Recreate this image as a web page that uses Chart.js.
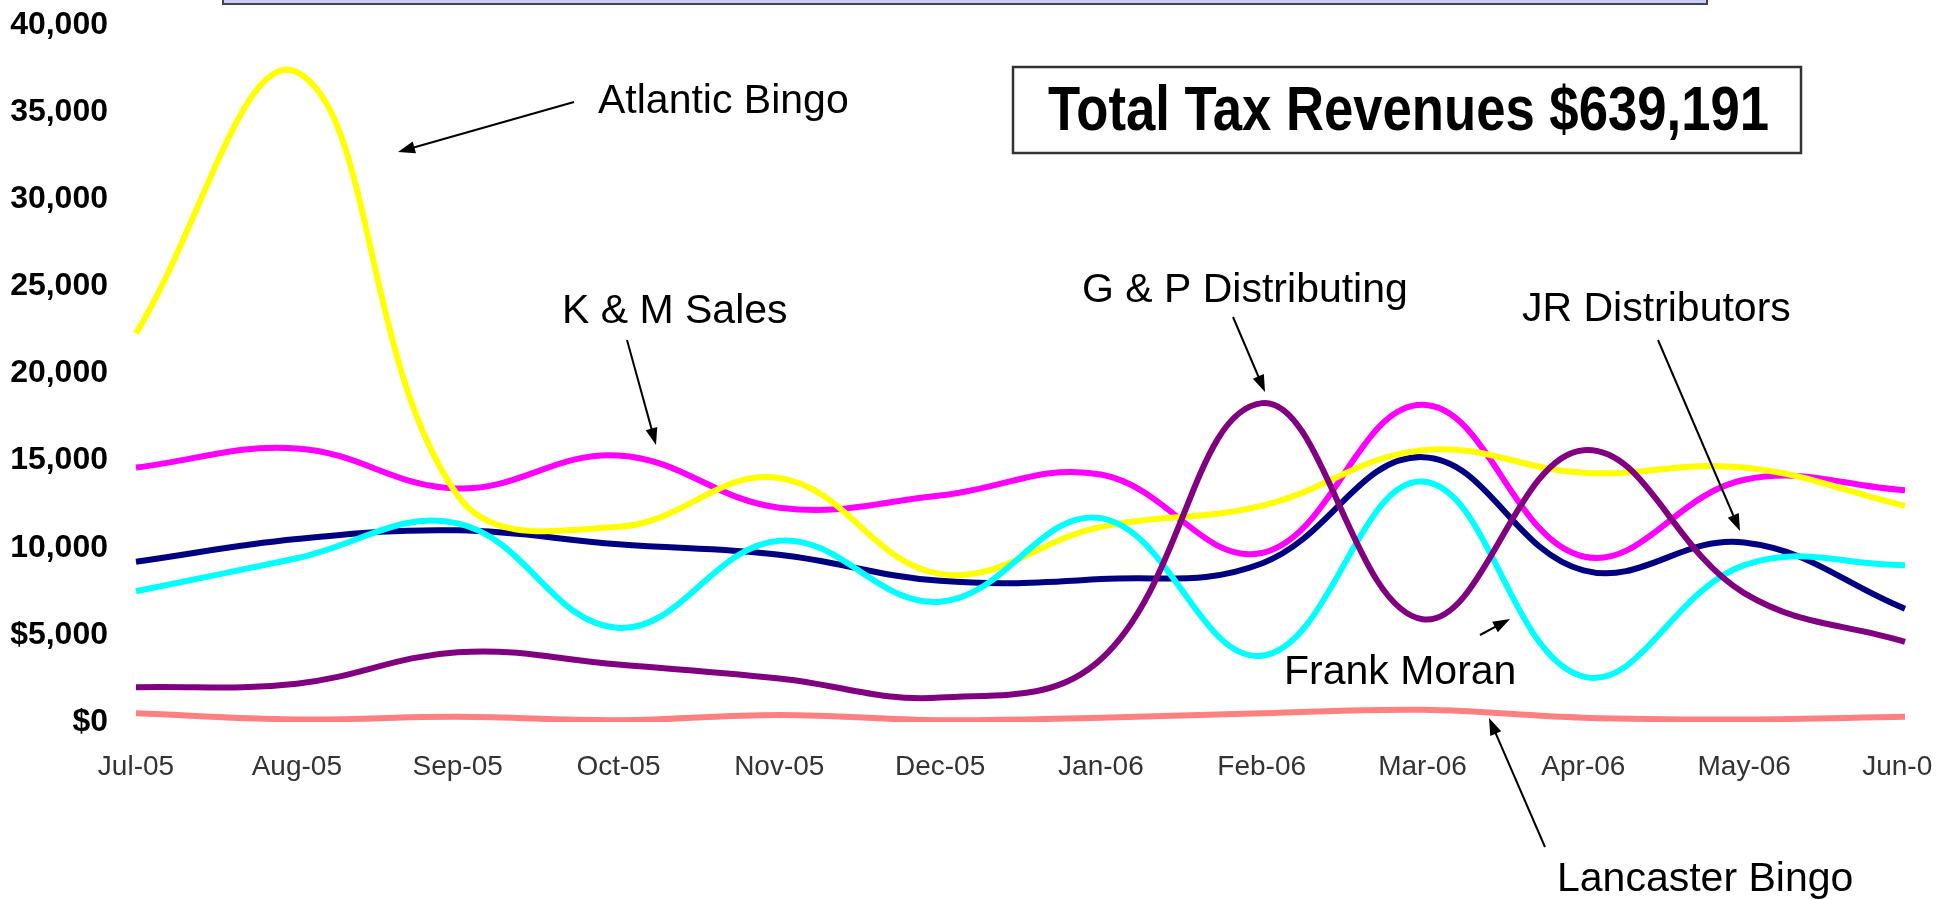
<!DOCTYPE html>
<html>
<head>
<meta charset="utf-8">
<title>Tax revenues by distributor</title>
<script src="https://cdn.jsdelivr.net/npm/chart.js@4.4.1/dist/chart.umd.min.js"></script>
<style>
  html, body { margin: 0; padding: 0; background: #fff; }
  #wrap { width: 1950px; height: 900px; }
</style>
</head>
<body>
<div id="wrap"><canvas id="chart" width="1950" height="900"></canvas></div>
<script>
// months on the x axis
const months = ["Jul-05", "Aug-05", "Sep-05", "Oct-05", "Nov-05", "Dec-05",
                "Jan-06", "Feb-06", "Mar-06", "Apr-06", "May-06", "Jun-06"];
const yTickLabels = ["$0", "$5,000", "10,000", "15,000", "20,000", "25,000", "30,000", "35,000", "40,000"];

// monthly tax revenue per distributor
const atlanticBingo     = [22300, 37300, 13000, 11200, 14000, 8500, 11200, 12400, 15600, 14300, 14600, 12400];
const kmSales           = [14600, 15700, 13400, 15300, 12300, 13000, 14200, 9700, 18200, 9500, 13900, 13300];
const jrDistributors    = [9200, 10500, 11000, 10200, 9600, 8100, 8200, 9100, 15200, 8700, 10300, 6500];
const frankMoran        = [7500, 9400, 11400, 5400, 10400, 6900, 11700, 3800, 13800, 2600, 9000, 9000];
const gpDistributing    = [2000, 2200, 4000, 3300, 2500, 1400, 3600, 18300, 5900, 15600, 7400, 4600];
const lancasterBingo    = [500, 150, 300, 100, 400, 100, 250, 500, 700, 250, 150, 300];

const totalLabel = "Total Tax Revenues $639,191";

// callout labels with their arrows (pixel positions on the canvas)
const notes = [
  { text: "Atlantic Bingo",     x: 598,  y: 113, from: [574, 102],  to: [398, 152] },
  { text: "K & M Sales",        x: 562,  y: 323, from: [627, 340],  to: [656, 445] },
  { text: "G & P Distributing", x: 1082, y: 302, from: [1233, 317], to: [1265, 392] },
  { text: "JR Distributors",    x: 1522, y: 321, from: [1658, 340], to: [1740, 531] },
  { text: "Frank Moran",        x: 1284, y: 684, from: [1480, 635], to: [1510, 619] },
  { text: "Lancaster Bingo",    x: 1557, y: 891, from: [1545, 847], to: [1489, 718] }
];

const FONT = "'Liberation Sans', Arial, sans-serif";

function arrow(ctx, x1, y1, x2, y2) {
  const a = Math.atan2(y2 - y1, x2 - x1);
  const len = 17, half = 6;
  ctx.beginPath();
  ctx.moveTo(x1, y1);
  ctx.lineTo(x2 - Math.cos(a) * len * 0.8, y2 - Math.sin(a) * len * 0.8);
  ctx.stroke();
  ctx.beginPath();
  ctx.moveTo(x2, y2);
  ctx.lineTo(x2 - len * Math.cos(a) + half * Math.sin(a), y2 - len * Math.sin(a) - half * Math.cos(a));
  ctx.lineTo(x2 - len * Math.cos(a) - half * Math.sin(a), y2 - len * Math.sin(a) + half * Math.cos(a));
  ctx.closePath();
  ctx.fill();
}

const decorations = {
  id: "decorations",
  afterDraw(chart) {
    const ctx = chart.ctx;
    ctx.save();

    // bottom of the title box that is cut off by the top edge
    ctx.fillStyle = "#ccccff";
    ctx.strokeStyle = "#444";
    ctx.lineWidth = 2;
    ctx.fillRect(223, -10, 1484, 14);
    ctx.strokeRect(223, -10, 1484, 14);

    // total box
    ctx.fillStyle = "#fff";
    ctx.fillRect(1013, 67, 788, 86);
    ctx.strokeStyle = "#333";
    ctx.lineWidth = 2.5;
    ctx.strokeRect(1013, 67, 788, 86);
    ctx.fillStyle = "#000";
    ctx.font = "bold 63px 'Liberation Sans Narrow', 'Liberation Sans', Arial, sans-serif";
    ctx.textBaseline = "alphabetic";
    ctx.textAlign = "left";
    const w = ctx.measureText(totalLabel).width;
    ctx.save();
    ctx.translate(1048, 130);
    ctx.scale(721 / w, 1);
    ctx.fillText(totalLabel, 0, 0);
    ctx.restore();

    // callouts
    ctx.font = "41px " + FONT;
    ctx.fillStyle = "#000";
    ctx.strokeStyle = "#000";
    ctx.lineWidth = 2;
    notes.forEach(n => {
      ctx.fillText(n.text, n.x, n.y);
      arrow(ctx, n.from[0], n.from[1], n.to[0], n.to[1]);
    });

    // the picture is cropped through the last month label
    ctx.fillStyle = "#fff";
    ctx.fillRect(1932, 740, 18, 60);
    ctx.restore();
  }
};

const line = (label, data, color) => ({
  label, data,
  borderColor: color,
  backgroundColor: color,
  borderWidth: 6,
  pointRadius: 0,
  fill: false,
  tension: 0.4
});

new Chart(document.getElementById("chart").getContext("2d"), {
  type: "line",
  data: {
    labels: months,
    datasets: [
      line("Lancaster Bingo", lancasterBingo, "#ff8080"),
      line("G & P Distributing", gpDistributing, "#800080"),
      line("Frank Moran", frankMoran, "#00ffff"),
      line("Atlantic Bingo", atlanticBingo, "#ffff00"),
      line("K & M Sales", kmSales, "#ff00ff"),
      line("JR Distributors", jrDistributors, "#000080")
    ]
  },
  options: {
    responsive: false,
    animation: false,
    layout: { padding: { top: 25, right: 45, left: 0, bottom: 0 } },
    plugins: {
      legend: { display: false },
      tooltip: { enabled: false }
    },
    scales: {
      x: {
        offset: false,
        grid: { display: false },
        border: { display: false },
        ticks: {
          color: "#333",
          font: { family: FONT, size: 28 },
          padding: 20,
          maxRotation: 0,
          autoSkip: false
        },
        afterFit: s => {
          s.height = 178;
          s.paddingLeft = 0;
          s.paddingRight = 0;
        }
      },
      y: {
        min: 0,
        max: 40000,
        grid: { display: false },
        border: { display: false },
        ticks: {
          stepSize: 5000,
          color: "#000",
          font: { family: FONT, size: 32, weight: "bold" },
          padding: 20,
          callback: (v, i) => yTickLabels[i]
        },
        afterFit: s => {
          s.width = 136;
          s.paddingTop = 0;
          s.paddingBottom = 0;
        }
      }
    }
  },
  plugins: [decorations]
});
</script>
</body>
</html>
